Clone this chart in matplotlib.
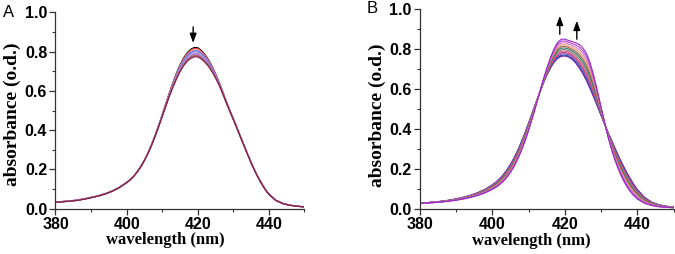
import numpy as np
import matplotlib.pyplot as plt

# wavelength grid (nm)
wl = np.array([380, 382, 384, 386, 388, 390, 392, 394, 396, 398,
               400, 401, 402, 403, 404, 405, 406, 407, 408, 409,
               410, 411, 412, 413, 414, 415, 416, 417, 418, 419,
               420, 421, 422, 423, 424, 425, 426, 427, 428, 429,
               430, 431, 432, 433, 434, 435, 436, 437, 438, 439,
               440, 442, 444, 446, 448, 450])

# panel A: first (highest) and last (lowest) spectrum
a_first = np.array([0.034, 0.037, 0.040, 0.044, 0.050, 0.058, 0.066, 0.077, 0.091, 0.110,
                    0.134, 0.149, 0.167, 0.189, 0.216, 0.248, 0.285, 0.327, 0.374, 0.425,
                    0.479, 0.535, 0.590, 0.642, 0.690, 0.732, 0.767, 0.794, 0.812, 0.821,
                    0.820, 0.806, 0.786, 0.759, 0.726, 0.688, 0.645, 0.598, 0.548, 0.502,
                    0.458, 0.413, 0.368, 0.323, 0.279, 0.236, 0.196, 0.160, 0.128, 0.098,
                    0.075, 0.043, 0.027, 0.018, 0.013, 0.010])
a_last = np.array([0.032, 0.035, 0.038, 0.042, 0.048, 0.056, 0.064, 0.075, 0.089, 0.108,
                   0.132, 0.147, 0.165, 0.187, 0.214, 0.245, 0.281, 0.322, 0.368, 0.417,
                   0.469, 0.521, 0.572, 0.618, 0.660, 0.697, 0.727, 0.750, 0.765, 0.773,
                   0.773, 0.762, 0.746, 0.725, 0.698, 0.666, 0.629, 0.586, 0.540, 0.496,
                   0.454, 0.410, 0.365, 0.320, 0.276, 0.233, 0.193, 0.157, 0.125, 0.096,
                   0.073, 0.041, 0.025, 0.017, 0.012, 0.009])
# peak height of each recorded spectrum in A
peaks_A = [0.821, 0.816, 0.810, 0.804, 0.798, 0.792, 0.786, 0.781, 0.777, 0.773]
colors_A = ['#000000', '#e8413c', '#f2a09a', '#4a55e0', '#8c94f0',
            '#b08ad8', '#c070b8', '#8a7088', '#a06070', '#8a1848']

# panel B: first (lowest) and last (highest) spectrum
b_first = np.array([0.030, 0.032, 0.035, 0.039, 0.044, 0.051, 0.059, 0.069, 0.082, 0.099,
                    0.121, 0.135, 0.152, 0.172, 0.196, 0.224, 0.257, 0.294, 0.336, 0.382,
                    0.431, 0.481, 0.531, 0.580, 0.626, 0.668, 0.704, 0.733, 0.753, 0.763,
                    0.765, 0.760, 0.748, 0.730, 0.705, 0.675, 0.640, 0.600, 0.557, 0.512,
                    0.467, 0.423, 0.380, 0.340, 0.298, 0.258, 0.221, 0.186, 0.154, 0.124,
                    0.098, 0.058, 0.034, 0.021, 0.014, 0.010])
b_last = np.array([0.028, 0.030, 0.032, 0.035, 0.039, 0.044, 0.050, 0.058, 0.068, 0.081,
                   0.098, 0.109, 0.122, 0.138, 0.158, 0.183, 0.213, 0.249, 0.291, 0.339,
                   0.393, 0.452, 0.515, 0.580, 0.644, 0.703, 0.756, 0.800, 0.833, 0.849,
                   0.849, 0.843, 0.837, 0.831, 0.822, 0.805, 0.777, 0.730, 0.665, 0.590,
                   0.510, 0.430, 0.355, 0.290, 0.235, 0.188, 0.148, 0.115, 0.088, 0.067,
                   0.050, 0.028, 0.017, 0.011, 0.008, 0.006])
peaks_B = [0.765, 0.770, 0.776, 0.783, 0.790, 0.797, 0.805, 0.813, 0.822, 0.831, 0.840, 0.849]
colors_B = ['#7a1aa0', '#3040a0', '#6a5acd', '#c03070', '#e06080', '#808080',
            '#2f7f6f', '#a05a3c', '#e89a6a', '#d07ad0', '#b040c8', '#9a28c8']

xticks = [380, 400, 420, 440]
yticks = [0.0, 0.2, 0.4, 0.6, 0.8, 1.0]

fig = plt.figure(figsize=(6.75, 2.54), dpi=100, facecolor='w')
axA = fig.add_axes([0.0822, 0.1783, 0.3689, 0.7732])
axB = fig.add_axes([0.6222, 0.1772, 0.3756, 0.7874])

def style(ax, ylx, yly):
    ax.set_xlim(380, 450)
    ax.set_ylim(0, 1.0)
    ax.set_xticks(xticks)
    ax.set_yticks(yticks)
    ax.set_yticklabels(['%.1f' % v for v in yticks])
    ax.set_xticks([390, 410, 430, 450], minor=True)
    ax.set_yticks([0.1, 0.3, 0.5, 0.7, 0.9], minor=True)
    ax.spines['top'].set_visible(False)
    ax.spines['right'].set_visible(False)
    for s in ['left', 'bottom']:
        ax.spines[s].set_linewidth(0.9)
        ax.spines[s].set_color('#333333')
    ax.tick_params(which='major', direction='out', length=4, width=0.9, color='#333333', pad=2)
    ax.tick_params(which='minor', direction='out', length=2.5, width=0.8, color='#333333')
    for lab in ax.get_xticklabels() + ax.get_yticklabels():
        lab.set_family('Liberation Sans')
        lab.set_fontweight('bold')
        lab.set_fontsize(11.5)
    ax.set_xlabel('wavelength (nm)', family='Liberation Serif', fontweight='bold', fontsize=12)
    ax.set_ylabel('absorbance (o.d.)', family='Liberation Serif', fontweight='bold', fontsize=14)
    ax.xaxis.label.set_va('center')
    ax.yaxis.label.set_va('center')
    ax.xaxis.set_label_coords(0.44, -0.16)
    ax.yaxis.set_label_coords(ylx, yly)

# panel A
pA0, pA1 = peaks_A[0], peaks_A[-1]
for p, c in zip(peaks_A, colors_A):
    f = (pA0 - p) / (pA0 - pA1)
    axA.plot(wl, a_first + (a_last - a_first) * f, color=c, lw=0.8)
style(axA, -0.172, 0.48)
axA.annotate('', xy=(418.7, 0.83), xytext=(418.7, 0.94),
             arrowprops=dict(arrowstyle='-|>,head_length=0.55,head_width=0.2', color='k', lw=1.0))

# panel B
pB0, pB1 = peaks_B[0], peaks_B[-1]
for p, c in zip(peaks_B, colors_B):
    f = (p - pB0) / (pB1 - pB0)
    axB.plot(wl, b_first + (b_last - b_first) * f, color=c, lw=0.8)
style(axB, -0.17, 0.47)
axB.annotate('', xy=(418.6, 0.98), xytext=(418.6, 0.86),
             arrowprops=dict(arrowstyle='-|>,head_length=0.55,head_width=0.2', color='k', lw=1.0))
axB.annotate('', xy=(423.3, 0.955), xytext=(423.3, 0.835),
             arrowprops=dict(arrowstyle='-|>,head_length=0.55,head_width=0.2', color='k', lw=1.0))

fig.text(0.004, 0.949, 'A', family='Liberation Sans', fontsize=12, va='center', ha='left')
fig.text(0.543, 0.968, 'B', family='Liberation Sans', fontsize=12, va='center', ha='left')

plt.savefig('out.png', dpi=100)
